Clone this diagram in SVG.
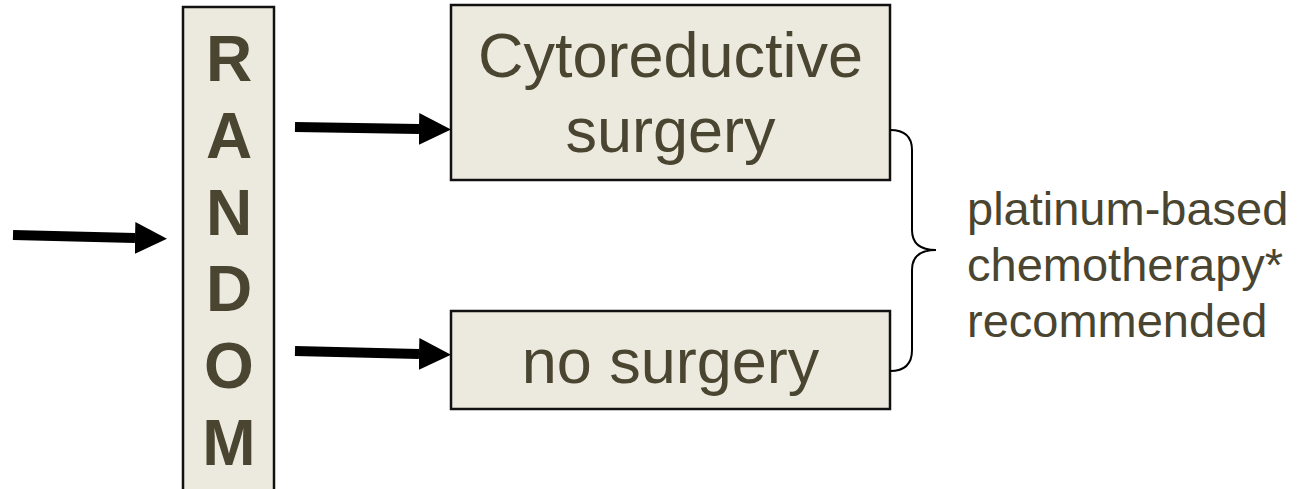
<svg xmlns="http://www.w3.org/2000/svg" width="1307" height="489" viewBox="0 0 1307 489">
<style>
.box{fill:#ECE9DF;stroke:#111;stroke-width:2.5}
.t{font-family:"Liberation Sans",Arial,sans-serif;fill:#4A4530}
.big{font-size:63px;text-anchor:middle}
.rnd{font-size:64px;font-weight:bold;text-anchor:middle}
.side{font-size:47px}
.arr{stroke:#000;stroke-width:10;fill:none;marker-end:url(#head)}
.brace{fill:none;stroke:#000;stroke-width:2}
</style>
<defs>
<marker id="head" markerUnits="userSpaceOnUse" markerWidth="32" markerHeight="32" refX="0" refY="16" orient="auto" viewBox="0 0 32 32">
<path d="M0,0 L32,16 L0,32 z" fill="#000"/>
</marker>
</defs>
<g id="random">
<rect class="box" x="183" y="7" width="91" height="490"/>
<text class="t rnd" x="229" y="81">R</text>
<text class="t rnd" x="229" y="158">A</text>
<text class="t rnd" x="229" y="234.5">N</text>
<text class="t rnd" x="229" y="311">D</text>
<text class="t rnd" x="229" y="388">O</text>
<text class="t rnd" x="229" y="465">M</text>
</g>
<g id="surgery">
<rect class="box" x="451" y="5" width="439" height="175"/>
<text class="t big" x="670.5" y="77">Cytoreductive</text>
<text class="t big" x="670.5" y="152">surgery</text>
</g>
<g id="nosurgery">
<rect class="box" x="451" y="311" width="439" height="98"/>
<text class="t big" x="670.5" y="383">no surgery</text>
</g>
<g id="chemo">
<text class="t side" x="967" y="225">platinum-based</text>
<text class="t side" x="967" y="281">chemotherapy*</text>
<text class="t side" x="967" y="337">recommended</text>
</g>
<g id="connectors">
<line class="arr" x1="13" y1="235" x2="135" y2="238"/>
<line class="arr" x1="295" y1="127" x2="419" y2="129"/>
<line class="arr" x1="295" y1="351" x2="419" y2="354"/>
<path class="brace" d="M890,130 Q912,130 912,150 L912,230 Q912,250 936,250 Q912,250 912,270 L912,350 Q912,371 890,371"/>
</g>
</svg>
